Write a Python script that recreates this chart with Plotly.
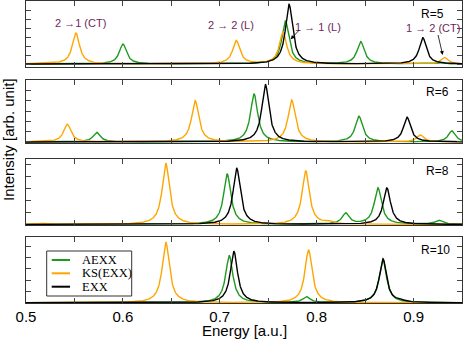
import numpy as np
import plotly.graph_objects as go
from plotly.subplots import make_subplots

# peak positions (a.u.) and heights (arb. units, one y-tick per unit)
r_values = [5, 6, 8, 10]

aexx_energy = {5: [0.600, 0.7677, 0.8454, 0.928],
               6: [0.5729, 0.7354, 0.8436, 0.9395],
               8: [0.7077, 0.830, 0.8632, 0.926],
               10: [0.7098, 0.7895, 0.8684]}
aexx_height = {5: [2.22, 4.78, 2.48, 0.15],
               6: [0.94, 4.66, 2.50, 1.07],
               8: [4.20, 0.90, 3.04, 0.33],
               10: [4.17, 0.52, 3.85]}

ks_energy = {5: [0.5515, 0.717, 0.7653, 0.932],
             6: [0.5426, 0.6746, 0.7742, 0.9070],
             8: [0.518, 0.6443, 0.7887, 0.8125],
             10: [0.6443, 0.7916]}
ks_height = {5: [3.44, 2.59, 3.55, 0.72],
             6: [1.72, 4.01, 4.08, 0.68],
             8: [0.10, 5.10, 4.45, 0.18],
             10: [5.37, 4.69]}

exx_energy = {5: [0.7715, 0.9096],
              6: [0.7471, 0.8933],
              8: [0.7175, 0.8725],
              10: [0.7146, 0.8684, 0.887]}
exx_height = {5: [6.63, 2.92],
              6: [5.60, 2.40],
              8: [4.68, 3.04],
              10: [4.54, 3.90, 0.12]}

x_ticks = [0.5, 0.55, 0.6, 0.65, 0.7, 0.75, 0.8, 0.85, 0.9, 0.95]
x_labels = ['0.5', '', '0.6', '', '0.7', '', '0.8', '', '0.9', '']

GAMMA = 0.0045
grid = np.linspace(0.5, 0.95, 1800)


def broaden(energies, heights):
    spec = np.zeros_like(grid)
    for e, h in zip(energies, heights):
        spec += h * GAMMA**2 / ((grid - e)**2 + GAMMA**2)
    return spec


GREEN = '#1f9a1f'
ORANGE = '#ffa500'
BLACK = '#000000'
PURPLE = '#6e1f5c'

W, H = 463, 339
L, R, T, B = 26, 1, 1, 36
PW, PH = W - L - R, H - T - B


def px(x):
    return (x - L) / PW


def py(y):
    return (H - B - y) / PH


# panel frames in pixels (top, bottom) and y ranges
panel_px = [(1, 66.7), (80, 143.3), (159.3, 225), (237.3, 303)]
y_ranges = [[-0.3, 7.0], [-0.13, 6.02], [-0.05, 5.43], [-0.02, 5.8]]

fig = make_subplots(rows=4, cols=1, shared_xaxes=True, vertical_spacing=0.05)

for i, r in enumerate(r_values):
    row = i + 1
    fig.add_trace(go.Scatter(x=grid, y=broaden(aexx_energy[r], aexx_height[r]),
                             mode='lines', line=dict(color=GREEN, width=1.4),
                             name='AEXX', showlegend=False), row=row, col=1)
    fig.add_trace(go.Scatter(x=grid, y=broaden(ks_energy[r], ks_height[r]),
                             mode='lines', line=dict(color=ORANGE, width=1.4),
                             name='KS(EXX)', showlegend=False), row=row, col=1)
    fig.add_trace(go.Scatter(x=grid, y=broaden(exx_energy[r], exx_height[r]),
                             mode='lines', line=dict(color=BLACK, width=1.4),
                             name='EXX', showlegend=False), row=row, col=1)

axis_common = dict(showline=True, mirror='ticks', linecolor='#333333', linewidth=1,
                   ticks='inside', ticklen=5, tickcolor='#444444', tickwidth=1,
                   showgrid=False, zeroline=False, automargin=False)

for i in range(4):
    top, bot = panel_px[i]
    xa = 'xaxis' if i == 0 else f'xaxis{i + 1}'
    ya = 'yaxis' if i == 0 else f'yaxis{i + 1}'
    fig.layout[xa].update(range=[0.5, 0.95], tickvals=x_ticks, ticktext=x_labels,
                          showticklabels=(i == 3), **axis_common)
    fig.layout[ya].update(range=y_ranges[i], domain=[py(bot), py(top)],
                          tick0=0, dtick=1, showticklabels=False, **axis_common)

fig.update_xaxes(tickfont=dict(family='Liberation Sans, Arial', size=15, color='black'))

ann = []
# transition labels in the top panel
lbl_font = dict(family='Liberation Sans, Arial', size=11, color=PURPLE)
for text, x, y in [('2 \u21921 (CT)', 80, 23), ('2 \u2192 2 (L)', 231, 25),
                   ('1 \u2192 1 (L)', 318, 26.5), ('1 \u2192 2 (CT)', 433, 28.5)]:
    ann.append(dict(text=text, x=px(x), y=py(y), xref='paper', yref='paper',
                    showarrow=False, font=lbl_font, xanchor='center', yanchor='middle'))

# arrows (tip, tail) in pixels
for (tx, ty), (sx, sy) in [((290.7, 39.3), (300.7, 28.5)), ((442.7, 55), (437.7, 33.5))]:
    ann.append(dict(text='', x=px(tx), y=py(ty), xref='paper', yref='paper',
                    ax=sx - tx, ay=sy - ty,
                    showarrow=True, arrowhead=2, arrowsize=1, arrowwidth=0.8,
                    arrowcolor='black'))

# R labels
r_font = dict(family='Liberation Sans, Arial', size=12, color='black')
for r, (x, y) in zip(r_values, [(446, 13.5), (451, 92), (451, 171), (452, 250)]):
    ann.append(dict(text=f'R={r}', x=px(x), y=py(y), xref='paper', yref='paper',
                    showarrow=False, font=r_font, xanchor='right', yanchor='middle'))

# axis titles
ax_font = dict(family='Liberation Sans, Arial', size=15, color='black')
ann.append(dict(text='Energy [a.u.]', x=px(244), y=py(330.5), xref='paper', yref='paper',
                showarrow=False, font=ax_font, xanchor='center', yanchor='middle'))
ann.append(dict(text='Intensity [arb. unit]', x=px(8), y=py(140), xref='paper', yref='paper',
                showarrow=False, font=ax_font, textangle=-90,
                xanchor='center', yanchor='middle'))

# legend drawn by hand in the bottom panel
shapes = [dict(type='rect', xref='paper', yref='paper',
               x0=px(46.7), x1=px(131.7), y0=py(296), y1=py(251),
               line=dict(color='#333333', width=1), fillcolor='white')]
leg_font = dict(family='Liberation Serif, Times New Roman', size=12.5, color='black')
for name, color, y in [('AEXX', GREEN, 260), ('KS(EXX)', ORANGE, 273.3), ('EXX', BLACK, 286.7)]:
    shapes.append(dict(type='line', xref='paper', yref='paper',
                       x0=px(51.7), x1=px(70), y0=py(y), y1=py(y),
                       line=dict(color=color, width=2)))
    ann.append(dict(text=name, x=px(80), y=py(y), xref='paper', yref='paper',
                    showarrow=False, font=leg_font, xanchor='left', yanchor='middle'))

fig.update_layout(width=W, height=H, margin=dict(l=L, r=R, t=T, b=B, autoexpand=False),
                  plot_bgcolor='white', paper_bgcolor='white',
                  showlegend=False, annotations=ann, shapes=shapes)

# drop the browser's default body margin so the figure sits at the page corner
fig.write_html("out.html", config={'displayModeBar': False},
               post_script="document.body.style.margin='0';")
